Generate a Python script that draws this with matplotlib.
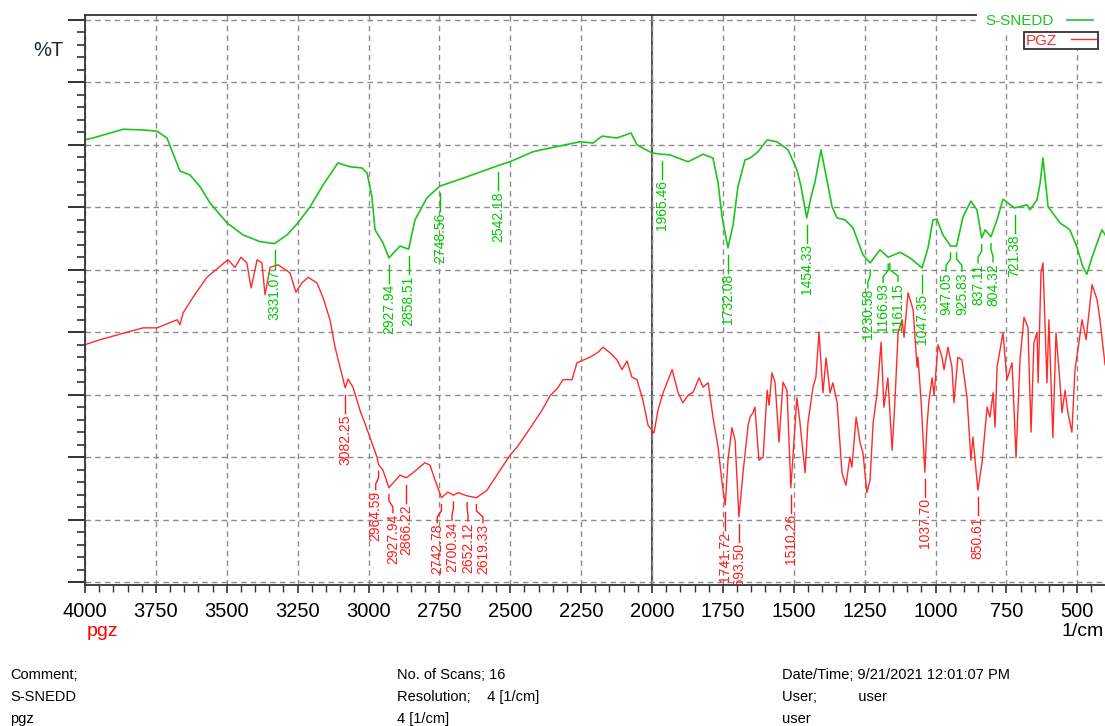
import numpy as np
import matplotlib
matplotlib.use('Agg')
from matplotlib import pyplot as plt
from matplotlib.ticker import MultipleLocator
from matplotlib.patches import Rectangle

plt.rcParams['font.family'] = ['Liberation Sans', 'DejaVu Sans']

# S-SNEDD spectrum (wavenumber 1/cm, %T)
snedd_wn = [4000, 3972, 3866, 3800, 3746, 3711, 3690, 3665, 3630, 3594, 3559, 3499, 3443, 3383,
            3331.07, 3287, 3249, 3206, 3160, 3108, 3065, 3023, 3005, 2988, 2977, 2949, 2927.94,
            2889, 2858.51, 2836, 2794, 2748.56, 2677, 2542.18, 2501, 2420, 2360, 2254, 2208, 2176,
            2124, 2074, 2053, 2000, 1965.46, 1937, 1873, 1820, 1785, 1767, 1753, 1732.08, 1714,
            1697, 1672, 1654, 1626, 1594, 1559, 1520, 1489, 1475, 1454.33, 1440, 1425, 1404, 1390,
            1365, 1347, 1319, 1291, 1256, 1230.58, 1196, 1166.93, 1125, 1090, 1047.35, 1026, 1009,
            995, 974, 947.05, 925.83, 903, 875, 854, 837.11, 825, 804.32, 783, 762, 721.38, 677,
            667, 642, 631, 621, 603, 561, 526, 501, 480, 466, 448, 430, 413, 402]
snedd_t = [70.8, 71.1, 72.5, 72.4, 72.2, 71.1, 68.7, 65.8, 65.2, 63.3, 60.7, 57.5, 55.6, 54.5,
           54.2, 55.6, 57.5, 60.1, 63.6, 67.1, 66.5, 66.3, 65.5, 61.7, 56.4, 54.3, 51.9,
           53.8, 53.3, 58.0, 61.5, 63.4, 64.5, 66.7, 67.3, 68.9, 69.5, 70.5, 70.3, 71.4,
           71.1, 71.9, 70.0, 68.7, 68.5, 68.4, 67.3, 68.5, 67.9, 63.9, 58.5, 53.5, 57.2,
           63.3, 67.6, 67.9, 68.9, 70.8, 70.5, 69.2, 66.0, 63.5, 58.3, 61.5, 64.1, 69.2, 66.0,
           60.1, 58.3, 58.0, 56.7, 52.4, 51.1, 53.2, 52.0, 52.8, 51.9, 50.3, 53.6, 58.0,
           58.1, 55.6, 53.8, 53.8, 58.5, 61.0, 59.6, 55.1, 56.4, 55.3, 58.0, 61.3, 59.9, 60.4,
           59.6, 61.2, 63.9, 67.9, 60.1, 57.5, 56.4, 53.6, 50.4, 49.3, 52.0, 54.3, 56.4, 55.6]

# PGZ spectrum
pgz_wn = [4000, 3947, 3852, 3795, 3746, 3675, 3665, 3654, 3619, 3570, 3496, 3471, 3450, 3429,
          3414, 3393, 3376, 3365, 3347, 3319, 3277, 3256, 3235, 3213, 3182, 3160, 3136, 3118,
          3082.25, 3072, 3055, 3030, 2995, 2970, 2964.59, 2949, 2927.94, 2889, 2866.22, 2843,
          2801, 2783, 2765, 2742.78, 2720, 2700.34, 2684, 2652.12, 2619.33, 2582, 2536, 2501,
          2476, 2423, 2388, 2360, 2332, 2314, 2282, 2265, 2219, 2190, 2173, 2148, 2124, 2106,
          2088, 2071, 2053, 2032, 2014, 1993, 1979, 1961, 1929, 1908, 1891, 1873, 1855, 1834,
          1820, 1802, 1785, 1767, 1753, 1741.72, 1732, 1718, 1707, 1693.50, 1679, 1661, 1654,
          1644, 1637, 1623, 1608, 1594, 1587, 1577, 1566, 1552, 1538, 1524, 1510.26, 1489,
          1478, 1471, 1460, 1450, 1432, 1422, 1411, 1397, 1386, 1372, 1362, 1347, 1330, 1316,
          1302, 1295, 1280, 1266, 1256, 1242, 1231, 1220, 1206, 1192, 1182, 1168, 1153, 1143,
          1132, 1118, 1111, 1097, 1079, 1065, 1062, 1051, 1037.70, 1030, 1023, 1012, 1005, 991,
          977, 970, 956, 942, 935, 921, 907, 889, 875, 868, 850.61, 836, 818, 808, 797, 790,
          783, 762, 748, 730, 716, 702, 688, 674, 663, 653, 642, 638, 628, 621, 607, 600, 586,
          575, 561, 554, 543, 533, 519, 508, 483, 469, 448, 430, 420, 413, 402]
pgz_t = [38.0, 38.8, 40.0, 40.7, 40.7, 42.0, 41.2, 43.1, 45.6, 48.8, 51.6, 50.4, 52.0, 51.1,
         47.1, 51.6, 51.1, 46.0, 50.4, 50.8, 49.5, 46.4, 47.9, 48.8, 47.9, 45.5, 42.0, 37.6,
         31.1, 32.5, 31.2, 27.5, 23.2, 20.0, 18.8, 17.9, 15.1, 17.1, 16.7, 17.5,
         19.1, 18.7, 16.3, 13.5, 14.4, 13.9, 14.3, 13.8, 13.5, 14.7, 17.9, 20.3,
         21.6, 25.1, 27.5, 29.8, 31.1, 32.4, 32.4, 35.1, 36.0, 36.8, 37.6, 36.7, 35.6, 34.0,
         35.4, 32.8, 32.4, 29.1, 25.1, 23.9, 27.5, 30.3, 34.0, 30.3, 28.7, 29.9, 30.4, 32.7,
         31.2, 31.9, 26.4, 21.6, 15.9, 12.3, 19.5, 24.7, 22.7, 10.4, 17.5, 25.1, 26.4,
         27.1, 28.0, 19.5, 20.0, 30.7, 28.3, 33.5, 32.0, 22.4, 32.0, 30.7, 15.1, 29.5,
         25.5, 22.3, 17.5, 25.5, 31.2, 32.8, 40.0, 30.3, 35.9, 30.3, 31.9, 28.7, 17.5, 15.5,
         20.0, 18.4, 26.4, 22.3, 20.7, 14.3, 16.3, 25.5, 30.3, 38.4, 28.0, 32.7, 21.1, 29.1,
         39.9, 42.0, 39.2, 46.3, 43.6, 34.4, 36.0, 29.1, 17.6, 25.1, 29.1, 32.7, 29.9, 38.0,
         36.0, 34.0, 37.6, 34.4, 28.7, 36.0, 35.6, 29.6, 19.5, 23.2, 14.7, 19.1, 28.0, 26.4, 30.3, 24.8,
         34.4, 39.9, 32.4, 35.1, 19.9, 35.6, 42.4, 40.8, 24.0, 38.3, 40.0, 31.9, 49.5, 51.1, 31.9, 42.0, 23.1,
         39.9, 31.9, 27.1, 30.7, 27.1, 24.0, 34.0, 42.0, 38.8, 47.6, 45.2, 42.0, 39.2, 34.8]

# peak picks
snedd_peaks = ['3331.07', '2927.94', '2858.51', '2748.56', '2542.18', '1965.46', '1732.08',
               '1454.33', '1230.58', '1166.93', '1161.15', '1047.35', '947.05', '925.83',
               '837.11', '804.32', '721.38']
pgz_peaks = ['3082.25', '2964.59', '2927.94', '2866.22', '2742.78', '2700.34', '2652.12',
             '2619.33', '1741.72', '1693.50', '1510.26', '1037.70', '850.61']

# sideways nudge of crowded labels (1/cm)
snedd_nudge = {'1230.58': 8, '1166.93': 18, '1161.15': -29, '947.05': 16, '925.83': -19,
               '837.11': 13, '804.32': -7}
pgz_nudge = {'2964.59': 10, '2927.94': -14, '2742.78': 15, '2700.34': 5, '2652.12': -3,
             '2619.33': -23}

green = '#1ec41e'
red = '#ff2a2a'

fig = plt.figure(figsize=(11.05, 7.26), dpi=100)
ax = fig.add_axes([85/1105, 141/726, 1020/1105, 570/726])

l_snedd, = ax.plot(snedd_wn, snedd_t, color=green, lw=1.2, zorder=2)
l_pgz, = ax.plot(pgz_wn, pgz_t, color=red, lw=1.0, zorder=2)


def pick_labels(wn, t, peaks, nudge, col):
    xs = np.array(wn)[::-1]
    ys = np.array(t)[::-1]
    for p in peaks:
        x = float(p)
        y0 = np.interp(x, xs, ys) - 1.1
        tx = x + nudge.get(p, 0)
        ax.plot([x, x, tx, tx], [y0, y0 - 1.0, y0 - 2.0, y0 - 2.9], color=col, lw=1.0,
                clip_on=True, zorder=3)
        ax.text(tx, y0 - 3.1, p, rotation=90, ha='center', va='top', fontsize=10,
                color=col, clip_on=True, zorder=3)


pick_labels(snedd_wn, snedd_t, snedd_peaks, snedd_nudge, '#00c800')
pick_labels(pgz_wn, pgz_t, pgz_peaks, pgz_nudge, '#ff1a1a')

ax.set_xlim(4000, 402.2)
ax.set_ylim(-0.48, 90.8)
ax.set_xticks(np.arange(4000, 499, -250))
ax.xaxis.set_minor_locator(MultipleLocator(50))
ax.set_yticks(np.arange(0, 91, 10))
ax.yaxis.set_minor_locator(MultipleLocator(2))
ax.set_yticklabels([])
ax.tick_params(axis='x', which='major', direction='out', length=6, width=1.2, colors='#333333',
               labelsize=14.5, labelcolor='black', pad=6)
ax.tick_params(axis='x', which='minor', direction='out', length=5, width=1.0, colors='#333333')
ax.tick_params(axis='y', which='major', direction='out', length=12, width=1.4, colors='#333333')
ax.tick_params(axis='y', which='minor', direction='out', length=5.8, width=1.2, colors='#333333')

ax.grid(which='major', ls=(0, (4, 3)), color='#8c8c8c', lw=1.0)
ax.axvline(2000, color='#555555', lw=1.5, zorder=1.5)

for s in ['left', 'bottom', 'top']:
    ax.spines[s].set_color('#333333')
    ax.spines[s].set_linewidth(1.3)
ax.spines['right'].set_visible(False)

# blank strip behind the legend
ax.add_patch(Rectangle((0.8745, 0.9719), 0.13, 0.04, transform=ax.transAxes, facecolor='white',
                       edgecolor='none', clip_on=False, zorder=3.5))

leg1 = ax.legend([l_snedd], ['S-SNEDD'], loc='upper right', bbox_to_anchor=(1093/1105, 1 - 14/726),
                 bbox_transform=fig.transFigure, frameon=False, markerfirst=False,
                 handlelength=1.7, handletextpad=0.9, borderpad=0, borderaxespad=0,
                 fontsize=11, labelcolor=green)
leg1.set_zorder(5)
ax.add_artist(leg1)
leg2 = ax.legend([l_pgz], ['PGZ'], loc='upper right', bbox_to_anchor=(1098/1105, 1 - 32/726),
                 bbox_transform=fig.transFigure, frameon=True, fancybox=False, markerfirst=False,
                 handlelength=1.7, handletextpad=0.9, borderpad=0.1, borderaxespad=0,
                 fontsize=11, labelcolor=red, edgecolor='#333333', framealpha=1)
leg2.get_frame().set_linewidth(1.3)
leg2.set_zorder(5)

fig.text(33/1105, 1 - 51/726, '%T', fontsize=14.5, color='#1c2838', va='center', ha='left')
fig.text(87/1105, 1 - 632/726, 'pgz', fontsize=14, color='red', va='center', ha='left')
fig.text(1104/1105, 1 - 632/726, '1/cm', fontsize=14, color='black', va='center', ha='right')

info_rows = [675, 697, 719]
info_cols = [(10, ['Comment;', 'S-SNEDD', 'pgz']),
             (397, ['No. of Scans; 16', 'Resolution;    4 [1/cm]', '4 [1/cm]']),
             (782, ['Date/Time; 9/21/2021 12:01:07 PM', 'User;          user', 'user'])]
for x0, lines in info_cols:
    for yy, s in zip(info_rows, lines):
        fig.text(x0/1105, 1 - yy/726, s, fontsize=10.5, color='black', va='center', ha='left')

fig.savefig('out.png', dpi=100)
